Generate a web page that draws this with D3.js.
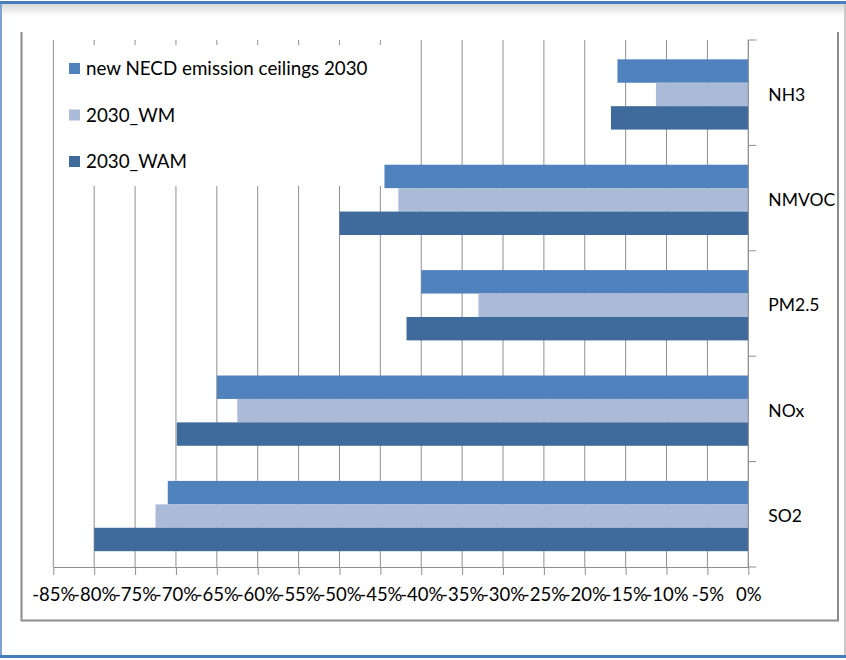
<!DOCTYPE html>
<html>
<head>
<meta charset="utf-8">
<script src="https://cdn.jsdelivr.net/npm/d3@7"></script>
<style>
  body { margin: 0; background: #fff; }
  text { font-family: Lato, "Open Sans", sans-serif; fill: #000; }
</style>
</head>
<body>
<div id="chart"></div>
<script>
// data (percent change)
var categories = ['NH3', 'NMVOC', 'PM2.5', 'NOx', 'SO2']
var seriesNames = ['new NECD emission ceilings 2030', '2030_WM', '2030_WAM']
var necd = [-16, -44.5, -40, -65, -71]
var wm = [-11.3, -42.8, -33, -62.5, -72.5]
var wam = [-16.8, -50, -41.8, -69.9, -80]
var tickValues = [-85, -80, -75, -70, -65, -60, -55, -50, -45, -40, -35, -30, -25, -20, -15, -10, -5, 0]
var colors = ['#4F81BD', '#AABAD7', '#3F6A9C']

var seriesValues = [necd, wm, wam]

var svg = d3.select('#chart')
  .append('svg')
  .attr('width', 846)
  .attr('height', 660)

// outer frame
var defs = svg.append('defs')
var grad = defs.append('linearGradient')
  .attr('id', 'shade')
  .attr('x1', 0).attr('y1', 0).attr('x2', 0).attr('y2', 1)
grad.append('stop').attr('offset', 0).attr('stop-color', '#d8d8d8')
grad.append('stop').attr('offset', 1).attr('stop-color', '#ffffff')
svg.append('rect').attr('x', 0).attr('y', 4).attr('width', 846).attr('height', 12).attr('fill', 'url(#shade)')
svg.append('rect').attr('x', 0).attr('y', 1).attr('width', 846).attr('height', 3).attr('fill', '#4A7EBB')
svg.append('rect').attr('x', 0).attr('y', 655).attr('width', 846).attr('height', 3).attr('fill', '#4A7EBB')
svg.append('rect').attr('x', 0).attr('y', 4).attr('width', 2).attr('height', 651).attr('fill', '#7EA3D3')
svg.append('rect').attr('x', 844).attr('y', 4).attr('width', 2).attr('height', 651).attr('fill', '#c8c8c8')

// chart area border (top cut off)
svg.append('path')
  .attr('d', 'M21.5,32 V620.5 H838 V32')
  .attr('fill', 'none')
  .attr('stroke', '#8c8c8c')
  .attr('stroke-width', 2)

var plot = { left: 53.3, right: 748.3, top: 40, bottom: 567 }

var xScale = d3.scaleLinear().domain([-85, 0]).range([plot.left, plot.right])
var yScale = d3.scaleBand()
  .domain(categories)
  .range([plot.top, plot.bottom])
  .paddingInner(1 / 3)
  .paddingOuter(1 / 6)
  .align(0.55)
var subScale = d3.scaleBand()
  .domain(seriesNames)
  .range([0, yScale.bandwidth()])

// vertical gridlines
svg.append('g')
  .selectAll('line')
  .data(tickValues)
  .enter().append('line')
  .attr('x1', d => xScale(d))
  .attr('x2', d => xScale(d))
  .attr('y1', plot.top)
  .attr('y2', plot.bottom)
  .attr('stroke', '#8f8f8f')
  .attr('stroke-width', 1)

// x axis
var xAxis = d3.axisBottom(xScale)
  .tickValues(tickValues)
  .tickSize(8)
  .tickSizeOuter(0)
  .tickPadding(13)
  .tickFormat(d => d + '%')
var xg = svg.append('g')
  .attr('transform', 'translate(0,' + plot.bottom + ')')
  .call(xAxis)
xg.select('.domain').attr('stroke', '#8f8f8f')
xg.selectAll('.tick line').attr('stroke', '#8f8f8f')
xg.selectAll('.tick text')
  .attr('font-size', 18.5)
  .attr('font-family', 'Lato, sans-serif')
  .attr('fill', '#000')

// bars
categories.forEach(function(cat, i) {
  svg.append('g')
    .selectAll('rect')
    .data(seriesNames.map((s, j) => ({ series: s, value: seriesValues[j][i], color: colors[j] })))
    .enter().append('rect')
    .attr('x', d => xScale(d.value))
    .attr('y', d => yScale(cat) + subScale(d.series))
    .attr('width', d => xScale(0) - xScale(d.value))
    .attr('height', subScale.bandwidth())
    .attr('fill', d => d.color)
})

// category axis on the right side (at 0%)
var step = (plot.bottom - plot.top) / categories.length
var yg = svg.append('g')
yg.append('line')
  .attr('x1', xScale(0)).attr('x2', xScale(0))
  .attr('y1', plot.top).attr('y2', plot.bottom)
  .attr('stroke', '#8f8f8f')
yg.selectAll('.tk')
  .data(d3.range(categories.length + 1))
  .enter().append('line')
  .attr('class', 'tk')
  .attr('x1', xScale(0))
  .attr('x2', xScale(0) + 8)
  .attr('y1', k => plot.top + k * step)
  .attr('y2', k => plot.top + k * step)
  .attr('stroke', '#8f8f8f')
yg.selectAll('text')
  .data(categories)
  .enter().append('text')
  .attr('x', xScale(0) + 20)
  .attr('y', d => yScale(d) + yScale.bandwidth() / 2)
  .attr('dy', '0.35em')
  .attr('font-size', 17.5)
  .text(d => d)

// legend (white box hides the gridlines)
var legend = svg.append('g')
legend.append('rect')
  .attr('x', 57).attr('y', 45)
  .attr('width', 325).attr('height', 141)
  .attr('fill', '#fff')
var item = legend.selectAll('.item')
  .data(seriesNames)
  .enter().append('g')
  .attr('class', 'item')
  .attr('transform', (d, i) => 'translate(69,' + (63 + i * 46.5) + ')')
item.append('rect')
  .attr('width', 11).attr('height', 11)
  .attr('fill', (d, i) => colors[i])
item.append('text')
  .attr('x', 17)
  .attr('y', 5.5)
  .attr('dy', '0.35em')
  .attr('font-size', 18.8)
  .text(d => d)
</script>
</body>
</html>
